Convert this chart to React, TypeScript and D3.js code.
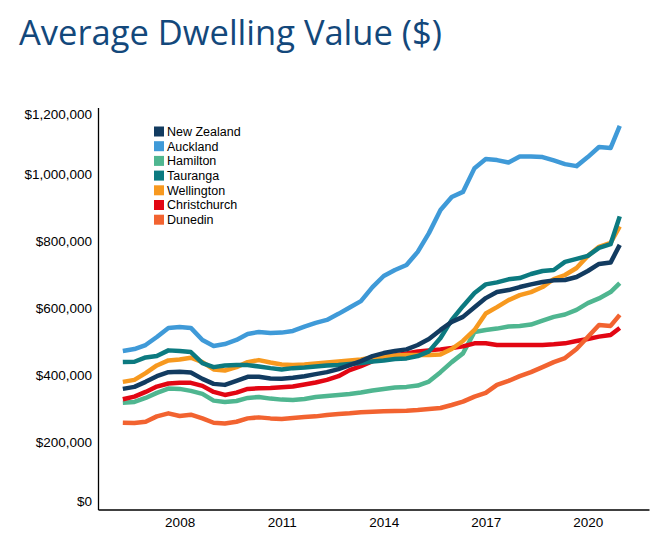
import React, { useEffect, useRef } from 'react';
import * as d3 from 'd3';

// decimal years, roughly every four months
const dates = [
  2006.33, 2006.67, 2007.0, 2007.33, 2007.67, 2008.0, 2008.33, 2008.67, 2009.0, 2009.33,
  2009.67, 2010.0, 2010.33, 2010.67, 2011.0, 2011.33, 2011.67, 2012.0, 2012.33, 2012.67,
  2013.0, 2013.33, 2013.67, 2014.0, 2014.33, 2014.67, 2015.0, 2015.33, 2015.67, 2016.0,
  2016.33, 2016.67, 2017.0, 2017.33, 2017.67, 2018.0, 2018.33, 2018.67, 2019.0, 2019.33,
  2019.67, 2020.0, 2020.33, 2020.67, 2020.94
];

// values in $000
const newZealand = [360, 366, 381, 398, 410, 411, 409, 390, 375, 372, 384, 396, 396, 391, 390, 393, 398, 404, 410, 419, 431, 443, 458, 467, 473, 478, 491, 509, 536, 560, 575, 604, 631, 649, 655, 664, 672, 679, 684, 685, 694, 712, 733, 737, 790];
const auckland = [473, 479, 491, 515, 542, 545, 542, 506, 488, 494, 506, 524, 530, 527, 528, 533, 546, 557, 566, 584, 603, 622, 664, 697, 715, 730, 769, 825, 894, 933, 948, 1019, 1046, 1043, 1036, 1054, 1054, 1052, 1042, 1031, 1025, 1052, 1082, 1079, 1145];
const hamilton = [319, 321, 333, 348, 361, 360, 354, 345, 325, 321, 324, 333, 336, 331, 328, 327, 330, 336, 339, 342, 345, 349, 355, 360, 364, 366, 370, 382, 410, 440, 466, 530, 536, 540, 546, 548, 552, 564, 575, 582, 596, 616, 630, 649, 676];
const tauranga = [440, 441, 454, 458, 475, 473, 470, 437, 425, 430, 431, 431, 427, 422, 418, 422, 424, 427, 430, 431, 434, 437, 442, 445, 449, 451, 458, 472, 512, 566, 607, 646, 672, 678, 687, 691, 703, 712, 715, 739, 748, 757, 781, 792, 875];
const wellington = [381, 387, 407, 430, 445, 448, 453, 440, 418, 415, 425, 440, 446, 439, 433, 431, 433, 436, 439, 442, 445, 448, 454, 457, 460, 461, 461, 461, 463, 479, 503, 536, 585, 604, 625, 640, 649, 664, 688, 700, 721, 757, 784, 796, 845];
const christchurch = [329, 337, 351, 367, 376, 378, 378, 369, 351, 342, 349, 360, 362, 363, 365, 367, 373, 379, 387, 398, 416, 428, 443, 455, 460, 466, 472, 475, 478, 482, 487, 496, 496, 491, 491, 491, 491, 491, 493, 496, 503, 509, 516, 521, 542];
const dunedin = [259, 258, 262, 278, 287, 279, 283, 272, 259, 257, 262, 272, 275, 272, 270, 273, 276, 278, 282, 285, 287, 290, 292, 293, 294, 295, 297, 300, 303, 312, 322, 337, 348, 372, 384, 398, 410, 425, 440, 452, 479, 515, 551, 548, 581];

const seriesNames = ['New Zealand', 'Auckland', 'Hamilton', 'Tauranga', 'Wellington', 'Christchurch', 'Dunedin'];
const seriesValues = [newZealand, auckland, hamilton, tauranga, wellington, christchurch, dunedin];
const seriesColors = ['#123b60', '#3f9ad8', '#4fb690', '#0c7a80', '#f7991f', '#e20613', '#f26330'];
// drawn bottom to top
const drawOrder = [1, 2, 5, 6, 4, 3, 0];

const yTicks = [0, 200, 400, 600, 800, 1000, 1200];
const xTicks = [2008, 2011, 2014, 2017, 2020];

const App: React.FC = () => {
  const svgRef = useRef<SVGSVGElement>(null);

  useEffect(() => {
    document.body.style.margin = '0';
    if (!svgRef.current) return;
    const svg = d3.select(svgRef.current);
    svg.selectAll('*').remove();

    const x = d3.scaleLinear().domain([2005.6, 2021.8]).range([98, 649]);
    const y = d3.scaleLinear().domain([0, 1200]).range([509.5, 107.5]);

    svg.append('text')
      .attr('x', 19)
      .attr('y', 45)
      .style('font-family', '"Open Sans", sans-serif')
      .style('font-size', '34.5px')
      .style('fill', '#13487b')
      .text('Average Dwelling Value ($)');

    const fmt = d3.format(',');

    // y axis
    const yAxis = svg.append('g')
      .attr('transform', `translate(${x.range()[0]},0)`)
      .call(d3.axisLeft(y).tickValues(yTicks).tickSize(0).tickSizeOuter(0).tickPadding(6)
        .tickFormat((d: any) => '$' + fmt((d as number) * 1000)));
    yAxis.select('.domain').attr('stroke', '#000').attr('stroke-width', 1.3);
    yAxis.selectAll('text')
      .style('font-family', '"Liberation Sans", Arial, sans-serif')
      .style('font-size', '13.5px')
      .style('fill', '#000');
    // end labels sit slightly inside the plot, as in the original
    yAxis.selectAll('.tick').filter((d: any) => d === 1200).select('text').attr('y', 6.5);
    yAxis.selectAll('.tick').filter((d: any) => d === 0).select('text').attr('y', -8.5);

    // x axis
    const xAxis = svg.append('g')
      .attr('transform', `translate(0,${y.range()[0]})`)
      .call(d3.axisBottom(x).tickValues(xTicks).tickSize(0).tickSizeOuter(0).tickPadding(8)
        .tickFormat((d: any) => String(d)));
    xAxis.select('.domain').attr('stroke', '#000').attr('stroke-width', 1.3);
    xAxis.selectAll('text')
      .style('font-family', '"Liberation Sans", Arial, sans-serif')
      .style('font-size', '13.5px')
      .style('fill', '#000');

    // lines
    const line = d3.line<number>()
      .x((_, i) => x(dates[i]))
      .y(d => y(d))
      .curve(d3.curveLinear);

    drawOrder.forEach(i => {
      svg.append('path')
        .datum(seriesValues[i])
        .attr('d', line)
        .attr('fill', 'none')
        .attr('stroke', seriesColors[i])
        .attr('stroke-width', 4.5)
        .attr('stroke-linejoin', 'round');
    });

    // legend
    const legend = svg.append('g').attr('transform', 'translate(154,126.5)');
    seriesNames.forEach((name, i) => {
      legend.append('rect')
        .attr('x', 0)
        .attr('y', i * 14.7)
        .attr('width', 10)
        .attr('height', 10)
        .attr('fill', seriesColors[i]);
      legend.append('text')
        .attr('x', 13)
        .attr('y', i * 14.7 + 5)
        .attr('dy', '0.35em')
        .style('font-family', '"Liberation Sans", Arial, sans-serif')
        .style('font-size', '12.5px')
        .style('fill', '#000')
        .text(name);
    });
  }, []);

  return <svg ref={svgRef} width={658} height={542} style={{ display: 'block' }} />;
};

export default App;
